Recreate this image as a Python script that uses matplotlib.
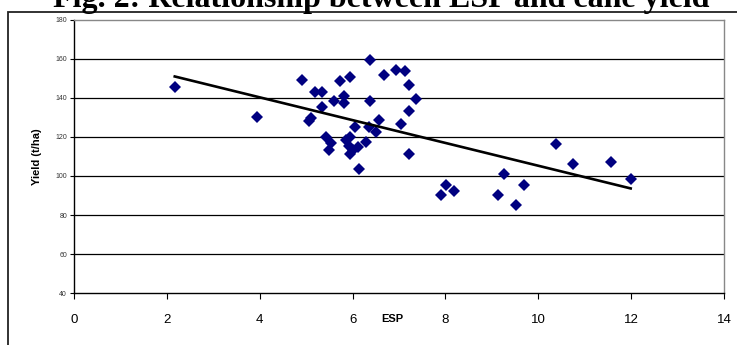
import numpy as np
import matplotlib.pyplot as plt
from matplotlib.patches import Rectangle

esp = [2.17, 3.94, 4.92, 5.18, 5.35, 5.35, 5.06, 5.10, 5.42, 5.54, 5.49, 5.59,
       5.72, 5.81, 5.81, 5.95, 5.86, 5.95, 5.92, 6.01, 5.95, 6.12, 6.06, 6.30,
       6.14, 6.36, 6.57, 6.51, 6.38, 6.38, 6.67, 6.93, 7.14, 7.21, 7.37, 7.21,
       7.04, 7.21, 7.91, 8.01, 8.19, 9.14, 9.27, 9.51, 9.69, 10.39, 10.74,
       11.56, 11.99]
yield_tha = [145.6, 130.3, 149.0, 142.9, 142.9, 135.4, 128.0, 129.7, 120.0,
             116.6, 113.5, 138.3, 148.4, 140.8, 137.4, 150.8, 118.6, 120.0,
             115.2, 113.5, 111.4, 114.9, 125.1, 117.2, 103.6, 124.9, 128.4,
             122.4, 138.3, 159.3, 151.4, 154.2, 153.5, 146.3, 139.1, 133.1,
             126.8, 111.4, 90.4, 95.4, 92.5, 90.3, 101.2, 85.1, 95.4, 116.4,
             106.3, 107.0, 98.3]
x_ticks = [0, 2, 4, 6, 8, 10, 12, 14]
y_ticks = [40, 60, 80, 100, 120, 140, 160, 180]

plt.rcParams['font.family'] = ['Liberation Sans', 'DejaVu Sans']

fig = plt.figure(figsize=(7.37, 3.45), dpi=100)
ax = fig.add_axes([74 / 737, 1 - 293.3 / 345, 650 / 737, 273.8 / 345])

# horizontal grid
for v in y_ticks[1:-1]:
    ax.axhline(v, color='black', lw=0.9, zorder=1)

ax.plot(esp, yield_tha, 'D', color='#000080', markersize=5.8,
        markeredgewidth=0, zorder=3)

# linear trend line
k, b = np.polyfit(esp, yield_tha, 1)
xs = np.array([min(esp), max(esp)])
ax.plot(xs, k * xs + b, color='black', lw=1.9, zorder=4)

ax.set_xlim(0, 14)
ax.set_ylim(40, 180)
ax.set_xticks(x_ticks)
ax.set_yticks(y_ticks)
ax.tick_params(axis='x', direction='out', length=4, width=0.8, pad=11,
               labelsize=9.5)
ax.tick_params(axis='y', direction='out', length=3, width=0.8, pad=2,
               labelsize=5, labelcolor='#333333')
for s in ['left', 'bottom']:
    ax.spines[s].set_color('black')
    ax.spines[s].set_linewidth(1.0)
for s in ['right', 'top']:
    ax.spines[s].set_color('#888888')
    ax.spines[s].set_linewidth(1.0)

ax.set_xlabel('ESP', fontsize=8, fontweight='bold')
ax.xaxis.set_label_coords(6.85 / 14, -0.075)
ax.set_ylabel('Yield (t/ha)', fontsize=8, fontweight='bold')
ax.yaxis.set_label_coords(-0.049, 0.5)

# outer chart border
fig.patches.append(Rectangle((8 / 737, -0.1), 1.2, 1 - 11.7 / 345 + 0.1,
                             transform=fig.transFigure, fill=False,
                             edgecolor='#222222', lw=1.3))

fig.text(381 / 737, 1 - 7 / 345, 'Fig. 2: Relationship between ESP and cane yield',
         ha='center', va='baseline', fontsize=23, fontweight='bold',
         family=['Liberation Serif', 'DejaVu Serif'])

fig.savefig('out.png', dpi=100)
